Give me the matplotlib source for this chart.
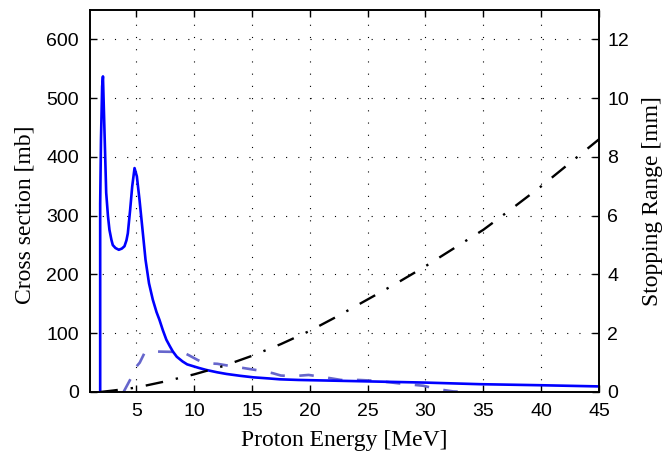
import matplotlib
matplotlib.use("Agg")
import matplotlib.pyplot as plt
import numpy as np

# Sección eficaz (curva azul continua)
e_xs = [1.88, 1.88, 1.95, 2.05, 2.12, 2.2, 2.3, 2.4, 2.55, 2.68, 2.85, 2.97,
        3.2, 3.49, 3.75, 3.98, 4.15, 4.27, 4.47, 4.65, 4.85, 5.05, 5.28,
        5.51, 5.8, 6.1, 6.43, 6.75, 7.0, 7.3, 7.6, 7.9, 8.16, 8.5, 9.0, 9.4,
        9.9, 10.4, 11.05, 12.0, 12.8, 14.0, 15.1, 16.5, 17.4, 19.0, 22.0,
        26.1, 30.0, 34.7, 40.0, 45.0]
xs = [0, 320, 430, 520, 537, 480, 410, 339, 300, 276, 259, 250,
      245, 242, 244, 248, 258, 270, 310, 350, 381, 367, 327,
      282, 225, 185, 157, 136, 123, 105, 89, 78, 69, 60, 52, 47,
      44, 41, 37.5, 33.5, 30.7, 27.5, 25, 23, 21.6, 20.5, 19.3,
      17.6, 16, 13.3, 11.5, 9.5]

# Segunda sección eficaz (curva discontinua)
e_xs2 = [3.9, 4.5, 5.0, 5.3, 5.7, 6.3, 7.6, 9.0, 9.6, 10.3, 10.9, 12.0, 13.5,
         14.2, 15.8, 16.8, 17.5, 18.6, 19.9, 21.3, 22.7, 24.2, 25.5, 26.9,
         28.2, 29.8, 31.0, 32.4, 33.6]
xs2 = [0, 22, 43, 50, 66, 69, 68.5, 68, 62, 54.5, 49, 48, 43,
       41, 36, 32, 28, 27, 29, 25, 20.5, 20.5, 19.3, 16.5,
       13.6, 10.7, 5, 1, 0]

# Alcance de frenado (eje derecho)
e_rng = [1.88, 3.0, 5.0, 7.5, 10.0, 12.5, 15.0, 17.5, 20.0, 22.5, 25.0, 27.5,
         30.0, 32.5, 35.0, 37.5, 40.0, 42.5, 45.0]
rng = [0.0, 0.05, 0.15, 0.36, 0.60, 0.88, 1.23, 1.63, 2.08, 2.6, 3.15, 3.7,
       4.28, 4.9, 5.52, 6.25, 7.0, 7.8, 8.6]

xticks = [5, 10, 15, 20, 25, 30, 35, 40, 45]
yticks = [0, 100, 200, 300, 400, 500, 600]
y2ticks = [0, 2, 4, 6, 8, 10, 12]

plt.rcParams['font.family'] = ['Liberation Sans', 'DejaVu Sans']
plt.rcParams['xtick.direction'] = 'in'
plt.rcParams['ytick.direction'] = 'in'

fig = plt.figure(figsize=(6.64, 4.57), dpi=100)
ax = fig.add_axes([90/664, 65/457, 509/664, 382/457])
ax2 = ax.twinx()

ax.plot(e_xs, xs, color='#0000ff', lw=1.9, zorder=3)
ax.plot(e_xs2, xs2, color='#6666cc', lw=1.9, dashes=(5.5, 5.5), zorder=2)
ax2.plot(e_rng, rng, color='black', lw=1.7, dashes=(7.5, 5.5, 1, 5.5))

ax.set_xlim(1, 45)
ax.set_ylim(0, 650)
ax2.set_ylim(0, 13)
ax.set_xticks(xticks)
ax.set_yticks(yticks)
ax2.set_yticks(y2ticks)

ax.grid(True, color='black', lw=0.8, linestyle=(0, (1, 10)))
ax.tick_params(axis='x', labelsize=14, length=5, width=1, top=True, pad=8)
ax.tick_params(axis='y', labelsize=14, length=5, width=1, pad=8)
ax2.tick_params(labelsize=14, length=5, width=1, pad=6)
for a in (ax, ax2):
    for s in a.spines.values():
        s.set_linewidth(1.2)

serif = ['Liberation Serif', 'DejaVu Serif']
ax.set_xlabel('Proton Energy [MeV]', family=serif, fontsize=17, labelpad=7)
ax.set_ylabel('Cross section [mb]', family=serif, fontsize=17)
ax2.set_ylabel('Stopping Range [mm]', family=serif, fontsize=17, labelpad=9)
ax.yaxis.set_label_coords(-0.108, 0.463)

fig.savefig('out.png', dpi=100)
